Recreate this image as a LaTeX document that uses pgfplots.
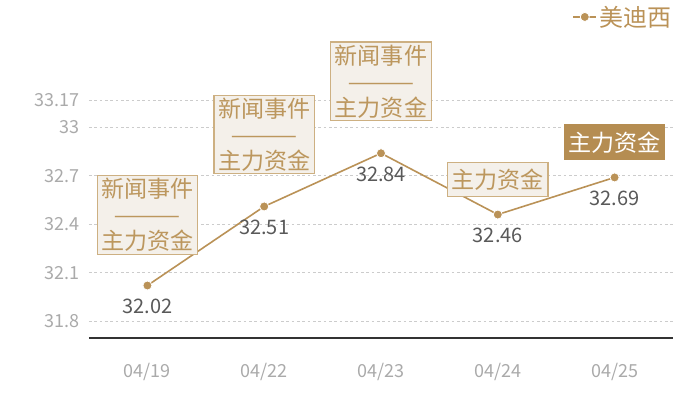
\documentclass[border=0pt]{standalone}
\usepackage{fontspec}
\setmainfont{Noto Sans CJK SC}
\usepackage{pgfplots}
\pgfplotsset{compat=1.18}
\definecolor{gold}{RGB}{186,146,87}
\definecolor{boxfill}{RGB}{244,240,234}
\definecolor{boxline}{RGB}{205,176,130}
\definecolor{boxtext}{RGB}{188,151,94}
\definecolor{darkbox}{RGB}{181,141,82}
\definecolor{vallabel}{RGB}{89,89,89}
\definecolor{ticklabel}{RGB}{170,170,170}
\newcommand{\dash}{\scalebox{1.75}[1]{——}}

\begin{document}
\begin{tikzpicture}[
    note/.style={draw=boxline, fill=boxfill, text=boxtext, line width=0.9pt,
      font=\fontsize{17.3}{19.5}\selectfont, align=center,
      inner xsep=3pt, inner ysep=2pt},
    note1/.style={note, minimum height=26pt, inner ysep=0pt},
  ]
\begin{axis}[
    scale only axis,
    width=438pt, height=178.5pt,
    xmin=-0.5, xmax=4.5,
    ymin=31.6946, ymax=33.17,
    clip=false,
    xtick={0,1,2,3,4},
    xticklabels={04/19,04/22,04/23,04/24,04/25},
    ytick={31.8,32.1,32.4,32.7,33,33.17},
    /pgf/number format/assume math mode=true,
    major tick length=0pt,
    axis x line*=bottom, axis y line*=left,
    x axis line style={draw=black!80, line width=0.8pt, -},
    y axis line style={draw=none},
    ymajorgrids,
    grid style={draw=black!20, line width=0.6pt, dash pattern=on 2pt off 2pt},
    xticklabel style={font=\fontsize{13.5}{14}\selectfont, text=ticklabel,
      anchor=center, yshift=-25.5pt},
    yticklabel style={font=\fontsize{13.5}{14}\selectfont, text=ticklabel,
      anchor=east, inner sep=0pt, xshift=-6.75pt},
    legend style={draw=none, fill=none, at={(1.005,1.349)}, anchor=east,
      font=\fontsize{18}{18}\selectfont, text=gold, inner sep=1pt},
  ]
\addplot[color=gold, line width=1.2pt, mark=*, mark size=3.4pt,
    mark options={fill=gold, draw=white, line width=0.6pt},
    nodes near coords,
    every node near coord/.append style={anchor=center, yshift=-15.75pt,
      font=\fontsize{15}{16}\selectfont, text=vallabel},
  ] coordinates {
    (0,32.02) (1,32.51) (2,32.84) (3,32.46) (4,32.69)
};
\addlegendentry{美迪西}

\node[note] at (axis cs:0,32.457) {新闻事件\\\dash\\主力资金};
\node[note] at (axis cs:1,32.956) {新闻事件\\\dash\\主力资金};
\node[note] at (axis cs:2,33.285) {新闻事件\\\dash\\主力资金};
\node[note1] at (axis cs:3,32.677) {主力资金};
\node[note1, fill=darkbox, draw=darkbox, text=white] at (axis cs:4,32.907) {主力资金};
\end{axis}
\pgfresetboundingbox
\path (current axis.south west) ++(-66.75pt,-46.5pt) rectangle ++(525pt,300pt);
\end{tikzpicture}
\end{document}
